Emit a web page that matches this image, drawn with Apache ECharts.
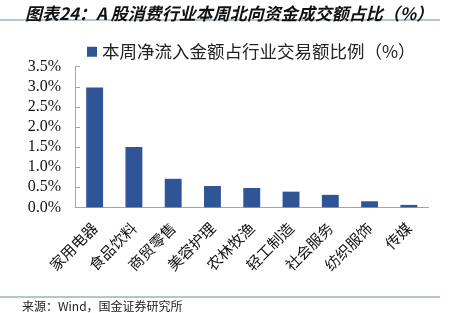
<!DOCTYPE html>
<html>
<head>
<meta charset="utf-8">
<script src="https://cdn.jsdelivr.net/npm/echarts@6/dist/echarts.min.js"></script>
<style>html,body{margin:0;padding:0;background:#fff;}#c{width:451px;height:313px;}</style>
</head>
<body>
<div id="c"></div>
<script>
const categories = ['家用电器','食品饮料','商贸零售','美容护理','农林牧渔','轻工制造','社会服务','纺织服饰','传媒'];
const values = [2.98, 1.50, 0.71, 0.53, 0.48, 0.39, 0.31, 0.15, 0.06];
const seriesName = '本周净流入金额占行业交易额比例（%）';
const titleText = '图表24：A 股消费行业本周北向资金成交额占比（%）';
const sourceText = '来源：Wind，国金证券研究所';

const chart = echarts.init(document.getElementById('c'), null, {renderer: 'canvas'});
chart.setOption({
  animation: false,
  backgroundColor: '#fff',
  title: {
    text: titleText,
    left: 20, top: 0,
    textStyle: {fontFamily: 'Noto Sans CJK SC', fontSize: 17, fontWeight: 'bold', fontStyle: 'italic', color: '#111'}
  },
  legend: {
    data: [seriesName],
    top: 38, left: 82,
    icon: 'rect', itemWidth: 10, itemHeight: 10, itemGap: 3,
    textStyle: {fontFamily: 'Noto Sans CJK SC', fontSize: 17.5, color: '#222'}
  },
  graphic: [
    {type: 'rect', shape: {x: 0, y: 19, width: 440, height: 2}, style: {fill: '#b4c4d4'}, silent: true},
    {type: 'rect', shape: {x: 0, y: 296, width: 440, height: 2}, style: {fill: '#b4c4d4'}, silent: true},
    {type: 'text', left: 22, top: 300, style: {text: sourceText, font: '12px "Noto Sans CJK SC"', fill: '#222'}, silent: true}
  ],
  grid: {left: 75, right: 22.5, top: 66.7, bottom: 105.7, containLabel: false},
  xAxis: {
    type: 'category', data: categories,
    axisLine: {lineStyle: {color: '#a6a6a6', width: 1}},
    axisTick: {inside: true, length: 5, lineStyle: {color: '#a6a6a6'}},
    axisLabel: {rotate: 45, margin: 18, interval: 0, fontFamily: 'Noto Sans CJK SC', fontSize: 15, color: '#111'}
  },
  yAxis: {
    type: 'value', min: 0, max: 3.5, interval: 0.5,
    axisLine: {show: true, lineStyle: {color: '#a6a6a6', width: 1}},
    axisTick: {show: true, inside: true, length: 5, lineStyle: {color: '#a6a6a6'}},
    splitLine: {show: false},
    axisLabel: {margin: 14, fontFamily: 'Liberation Serif', fontSize: 16, color: '#111', formatter: v => v.toFixed(1) + '%'}
  },
  series: [{
    name: seriesName, type: 'bar', data: values, barWidth: '43%',
    itemStyle: {color: '#2F5597'}
  }]
});
</script>
</body>
</html>
